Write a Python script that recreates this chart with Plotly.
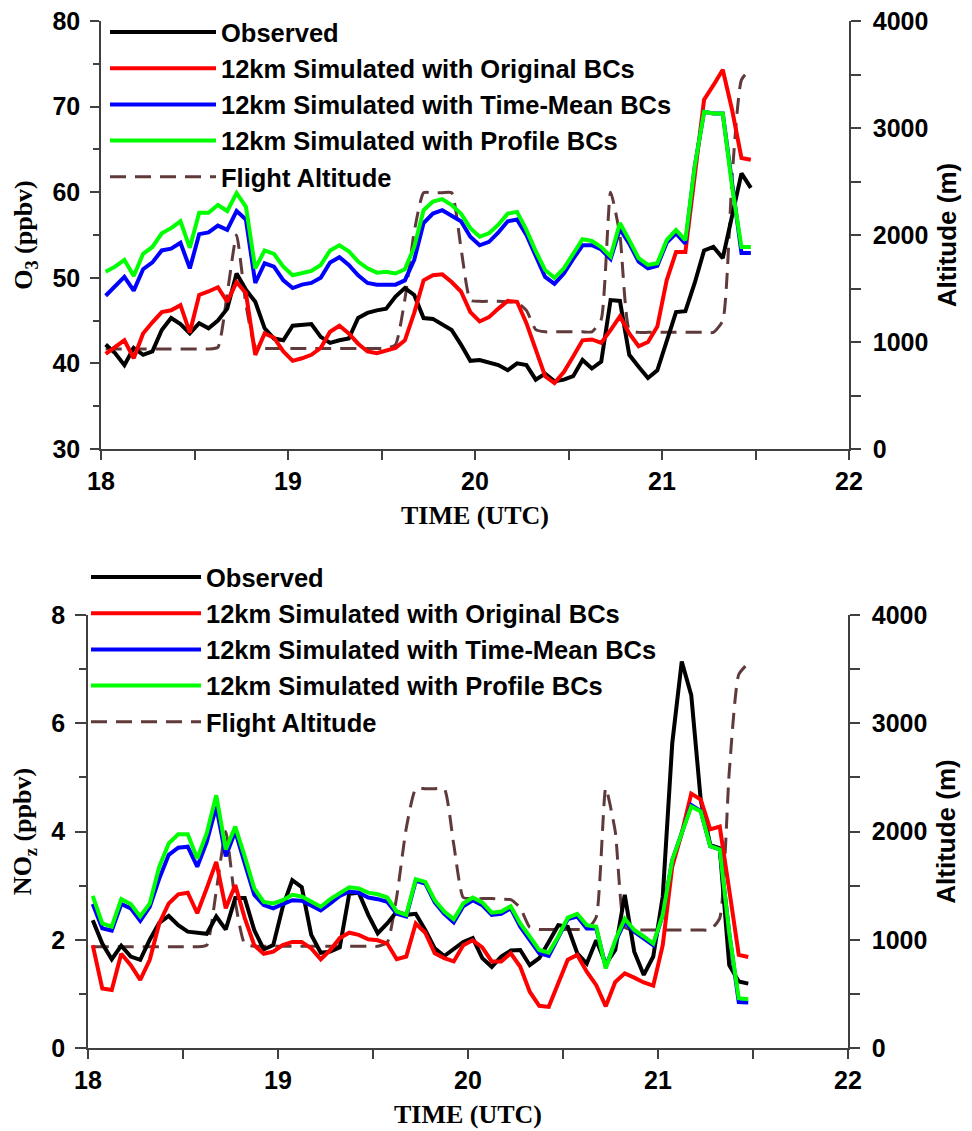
import plotly.graph_objects as go

time_utc = [
    18.025, 18.075, 18.125, 18.175, 18.225, 18.275, 18.325, 18.375, 18.425, 18.475,
    18.525, 18.575, 18.625, 18.675, 18.725, 18.775, 18.825, 18.875, 18.925, 18.975,
    19.025, 19.075, 19.125, 19.175, 19.225, 19.275, 19.325, 19.375, 19.425, 19.475,
    19.525, 19.575, 19.625, 19.675, 19.725, 19.775, 19.825, 19.875, 19.925, 19.975,
    20.025, 20.075, 20.125, 20.175, 20.225, 20.275, 20.325, 20.375, 20.425, 20.475,
    20.525, 20.575, 20.625, 20.675, 20.725, 20.775, 20.825, 20.875, 20.925, 20.975,
    21.025, 21.075, 21.125, 21.175, 21.225, 21.275, 21.325, 21.375, 21.425, 21.475,
]

o3_observed = [
    42.2, 41.2, 39.8, 41.8, 41.0, 41.4, 43.9, 45.3, 44.6, 43.5,
    44.7, 44.1, 45.0, 46.4, 50.5, 48.6, 47.2, 44.1, 42.9, 42.7,
    44.4, 44.5, 44.6, 43.1, 42.4, 42.7, 42.9, 45.3, 45.9, 46.2,
    46.4, 47.8, 48.8, 48.0, 45.3, 45.2, 44.5, 43.9, 42.2, 40.3,
    40.4, 40.1, 39.8, 39.2, 40.0, 39.8, 38.1, 38.8, 37.9, 38.1,
    38.5, 40.4, 39.4, 40.2, 47.4, 47.3, 41.0, 39.6, 38.3, 39.2,
    42.7, 46.0, 46.1, 49.4, 53.2, 53.6, 52.3, 57.5, 62.2, 60.5,
]
o3_original = [
    41.1, 41.9, 42.7, 40.6, 43.5, 44.8, 46.0, 46.2, 46.8, 43.6,
    48.0, 48.4, 48.9, 47.2, 49.5, 48.2, 41.0, 43.5, 43.0, 41.4,
    40.3, 40.6, 41.0, 41.8, 43.7, 44.4, 43.5, 42.3, 41.4, 41.2,
    41.5, 41.8, 42.7, 45.9, 49.7, 50.3, 50.4, 49.5, 48.4, 46.0,
    44.9, 45.4, 46.4, 47.3, 47.2, 44.7, 41.6, 38.5, 37.7, 39.0,
    40.8, 42.7, 42.8, 42.4, 43.9, 45.5, 43.5, 42.0, 42.5, 44.3,
    49.7, 53.0, 53.0, 61.8, 70.8, 72.5, 74.3, 69.6, 64.0, 63.8,
]
o3_timemean = [
    47.9, 49.0, 50.1, 48.5, 51.0, 51.8, 53.2, 53.4, 54.1, 51.1,
    55.1, 55.3, 56.1, 55.6, 57.8, 56.8, 49.4, 51.7, 51.3, 49.7,
    48.8, 49.2, 49.4, 50.0, 51.8, 52.4, 51.5, 50.3, 49.4, 49.2,
    49.2, 49.2, 49.7, 52.1, 56.4, 57.5, 57.9, 57.3, 56.6, 54.8,
    53.8, 54.2, 55.3, 56.6, 56.8, 55.0, 52.5, 50.1, 49.3, 50.5,
    52.2, 53.8, 53.8, 53.3, 52.2, 55.7, 54.0, 51.9, 51.1, 51.4,
    54.1, 55.2, 54.0, 63.0, 69.4, 69.2, 69.2, 60.6, 52.9, 52.9,
]
o3_profile = [
    50.7, 51.3, 52.1, 50.2, 52.8, 53.6, 55.2, 55.8, 56.6, 53.5,
    57.6, 57.6, 58.5, 57.8, 59.9, 58.3, 51.1, 53.2, 52.8, 51.3,
    50.3, 50.5, 50.8, 51.5, 53.2, 53.8, 53.1, 51.9, 51.1, 50.6,
    50.7, 50.5, 51.0, 53.6, 57.9, 58.9, 59.2, 58.5, 57.5, 55.8,
    54.8, 55.2, 56.2, 57.5, 57.7, 55.6, 53.1, 50.9, 50.0, 51.1,
    52.7, 54.5, 54.3, 53.6, 52.5, 56.4, 54.4, 52.3, 51.5, 51.7,
    54.4, 55.6, 54.4, 63.0, 69.4, 69.2, 69.2, 60.6, 53.6, 53.6,
]

noz_observed = [
    2.36, 1.93, 1.64, 1.89, 1.69, 1.63, 2.00, 2.31, 2.44, 2.27,
    2.15, 2.13, 2.11, 2.43, 2.19, 2.77, 2.77, 2.18, 1.82, 1.90,
    2.61, 3.10, 2.97, 2.09, 1.76, 1.78, 1.86, 2.85, 2.87, 2.46,
    2.12, 2.30, 2.52, 2.46, 2.48, 2.18, 1.84, 1.70, 1.84, 1.96,
    2.03, 1.66, 1.50, 1.69, 1.80, 1.81, 1.53, 1.66, 1.96, 2.27,
    2.24, 1.75, 1.56, 1.99, 1.55, 1.81, 2.83, 1.78, 1.35, 1.69,
    2.80, 5.63, 7.14, 6.52, 4.58, 3.75, 3.69, 1.53, 1.23, 1.19,
]
noz_original = [
    1.90, 1.10, 1.07, 1.74, 1.53, 1.26, 1.63, 2.30, 2.67, 2.84,
    2.87, 2.49, 2.95, 3.44, 2.58, 3.01, 2.40, 1.90, 1.74, 1.78,
    1.90, 1.96, 1.96, 1.84, 1.64, 1.81, 2.03, 2.13, 2.09, 2.01,
    1.99, 1.93, 1.64, 1.69, 2.30, 2.13, 1.75, 1.66, 1.60, 1.90,
    1.99, 1.86, 1.60, 1.60, 1.75, 1.50, 1.04, 0.78, 0.76, 1.18,
    1.63, 1.72, 1.41, 1.16, 0.77, 1.22, 1.38, 1.30, 1.21, 1.15,
    1.90, 3.35, 3.97, 4.70, 4.59, 4.04, 4.09, 2.92, 1.72, 1.68,
]
noz_timemean = [
    2.66, 2.21, 2.17, 2.66, 2.58, 2.35, 2.61, 3.13, 3.57, 3.70,
    3.72, 3.35, 3.81, 4.46, 3.54, 4.00, 3.41, 2.83, 2.64, 2.58,
    2.66, 2.73, 2.72, 2.64, 2.54, 2.67, 2.81, 2.89, 2.87, 2.78,
    2.75, 2.70, 2.48, 2.43, 3.09, 3.04, 2.69, 2.48, 2.32, 2.62,
    2.73, 2.64, 2.46, 2.48, 2.58, 2.24, 1.99, 1.75, 1.70, 2.03,
    2.38, 2.43, 2.21, 2.21, 1.50, 1.96, 2.33, 2.15, 2.03, 1.90,
    2.46, 3.47, 3.97, 4.49, 4.38, 3.73, 3.67, 2.12, 0.85, 0.84,
]
noz_profile = [
    2.81, 2.30, 2.24, 2.75, 2.66, 2.43, 2.67, 3.35, 3.78, 3.95,
    3.95, 3.50, 3.97, 4.67, 3.67, 4.09, 3.54, 2.95, 2.70, 2.67,
    2.73, 2.83, 2.80, 2.70, 2.61, 2.75, 2.87, 2.97, 2.95, 2.87,
    2.84, 2.78, 2.52, 2.46, 3.12, 3.07, 2.73, 2.52, 2.38, 2.67,
    2.78, 2.69, 2.50, 2.52, 2.62, 2.30, 2.06, 1.81, 1.76, 2.06,
    2.41, 2.48, 2.27, 2.24, 1.47, 1.99, 2.39, 2.18, 2.06, 1.93,
    2.46, 3.47, 3.97, 4.46, 4.37, 3.73, 3.67, 2.12, 0.92, 0.90,
]

flight_altitude = [
    935, 935, 935, 935, 935, 935, 935, 935, 935, 935,
    935, 935, 950, 1450, 2000, 1350, 960, 940, 940, 940,
    940, 940, 940, 940, 940, 940, 940, 940, 940, 940,
    940, 975, 1400, 2030, 2395, 2395, 2395, 2395, 1880, 1390,
    1380, 1380, 1380, 1375, 1370, 1295, 1115, 1095, 1095, 1095,
    1095, 1095, 1095, 1210, 2400, 2000, 1115, 1090, 1090, 1090,
    1090, 1090, 1090, 1090, 1090, 1090, 1200, 2550, 3450, 3555,
]

series_names = [
    "Observed",
    "12km Simulated with Original BCs",
    "12km Simulated with Time-Mean BCs",
    "12km Simulated with Profile BCs",
    "Flight Altitude",
]
series_colors = ["#000000", "#ff0000", "#0000ff", "#00ff00", "#603a3a"]

SANS = "Liberation Sans, Arial, sans-serif"
SERIF = "Liberation Serif, Times New Roman, serif"
AXC = "#404040"

fig = go.Figure()

panels = [
    dict(x="x", yalt="y", yval="y2", legend="legend",
         vals=[o3_observed, o3_original, o3_timemean, o3_profile]),
    dict(x="x2", yalt="y3", yval="y4", legend="legend2",
         vals=[noz_observed, noz_original, noz_timemean, noz_profile]),
]

for p in panels:
    # altitude first so it sits underneath
    fig.add_trace(go.Scatter(
        x=time_utc, y=flight_altitude, mode="lines", name=series_names[4],
        line=dict(color=series_colors[4], width=3, dash="16px,9px", shape="spline", smoothing=0.5),
        xaxis=p["x"], yaxis=p["yalt"], legend=p["legend"], legendrank=5,
        legendgroup=p["legend"] + "alt", hoverinfo="skip",
    ))
    for i, v in enumerate(p["vals"]):
        fig.add_trace(go.Scatter(
            x=time_utc, y=v, mode="lines", name=series_names[i],
            line=dict(color=series_colors[i], width=4),
            xaxis=p["x"], yaxis=p["yval"], legend=p["legend"], legendrank=i + 1,
            legendgroup=p["legend"] + str(i),
        ))

tick_font = dict(family=SANS, size=25, color="black", weight="bold")

def xax(domain, anchor):
    return dict(
        domain=domain, anchor=anchor, range=[18, 22], dtick=1, tick0=18,
        ticks="outside", ticklen=9, tickwidth=1.5, tickcolor=AXC,
        minor=dict(dtick=0.5, ticklen=9, tickwidth=1.5, tickcolor=AXC, ticks="outside"),
        showline=True, linecolor=AXC, linewidth=1.5, showgrid=False, zeroline=False,
        tickfont=tick_font, ticklabelstandoff=0, automargin=False,
        title=dict(text="TIME (UTC)", font=dict(family=SERIF, size=26, color="black", weight="bold"),
                   standoff=12),
    )

def altax(domain, anchor):
    return dict(
        domain=domain, anchor=anchor, side="right", range=[0, 4000], dtick=1000,
        ticks="outside", ticklen=10, tickwidth=1.5, tickcolor=AXC,
        minor=dict(dtick=500, ticklen=10, tickwidth=1.5, tickcolor=AXC, ticks="outside"),
        showline=True, linecolor=AXC, linewidth=1.5, showgrid=False, zeroline=False,
        tickfont=tick_font, ticklabelstandoff=7, automargin=False,
        title=dict(text="Altitude (m)", font=dict(family=SANS, size=26, color="black", weight="bold"),
                   standoff=10),
    )

def valax(overlay, anchor, rng, dt, mdt, title, tlen, mlen):
    return dict(
        overlaying=overlay, anchor=anchor, side="left", range=rng, dtick=dt, tick0=rng[0],
        ticks="outside", ticklen=tlen, tickwidth=1.5, tickcolor=AXC,
        minor=dict(dtick=mdt, ticklen=mlen, tickwidth=1.5, tickcolor=AXC, ticks="outside"),
        showline=True, linecolor=AXC, linewidth=1.5, showgrid=False, zeroline=False,
        tickfont=tick_font, ticklabelstandoff=5, automargin=False,
        title=dict(text=title, font=dict(family=SERIF, size=26, color="black", weight="bold"),
                   standoff=12),
    )

top_x = [101 / 972, 849 / 972]
top_y = [(1131 - 449) / 1131, (1131 - 21) / 1131]
bot_x = [88 / 972, 848 / 972]
bot_y = [(1131 - 1048) / 1131, (1131 - 615) / 1131]

legend_common = dict(
    font=dict(family=SANS, size=25.5, color="black", weight="bold"),
    bgcolor="rgba(0,0,0,0)", borderwidth=0,
    traceorder="grouped", tracegroupgap=0, xanchor="left", yanchor="top",
)

fig.update_layout(
    width=972, height=1131, autosize=False,
    margin=dict(l=0, r=0, t=0, b=0, autoexpand=False),
    paper_bgcolor="white", plot_bgcolor="rgba(0,0,0,0)",
    showlegend=True,
    xaxis=xax(top_x, "y"),
    yaxis=altax(top_y, "x"),
    yaxis2=valax("y", "x", [30, 80], 10, 5, "O<sub>3</sub> (ppbv)", 9, 6),
    xaxis2=xax(bot_x, "y3"),
    yaxis3=altax(bot_y, "x2"),
    yaxis4=valax("y3", "x2", [0, 8], 2, 1, "NO<sub>z</sub> (ppbv)", 11, 7),
    legend=dict(x=105 / 972, y=1 - 9 / 1131, itemwidth=106, **legend_common),
    legend2=dict(x=86 / 972, y=1 - 554 / 1131, itemwidth=110, **legend_common),
)

fig.write_html("out.html")
